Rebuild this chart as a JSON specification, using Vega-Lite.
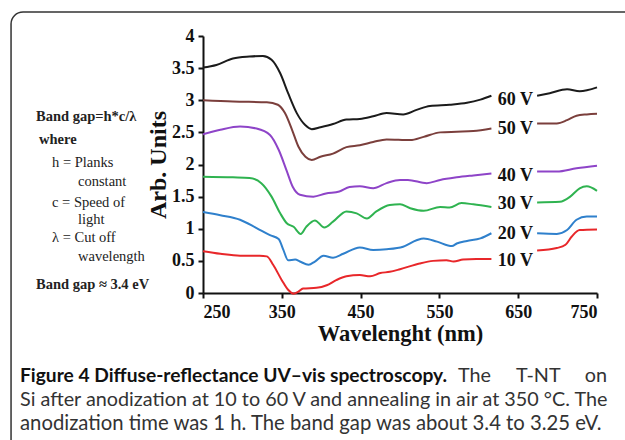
{
  "$schema": "https://vega.github.io/schema/vega-lite/v6.json",
  "width": 394,
  "height": 257,
  "autosize": {"type": "none"},
  "padding": {"left": 203, "top": 36, "right": 28, "bottom": 147},
  "background": "white",
  "config": {"view": {"stroke": null}, "axis": {"labelOverlap": false}},
  "datasets": {
    "curves": [
      {"s":"60 V","seg":1,"wl":250,"v":3.51},{"s":"60 V","seg":1,"wl":267,"v":3.55},{"s":"60 V","seg":1,"wl":288,"v":3.65},{"s":"60 V","seg":1,"wl":309,"v":3.68},{"s":"60 V","seg":1,"wl":326,"v":3.69},{"s":"60 V","seg":1,"wl":337,"v":3.63},{"s":"60 V","seg":1,"wl":348,"v":3.42},{"s":"60 V","seg":1,"wl":358,"v":3.11},{"s":"60 V","seg":1,"wl":369,"v":2.80},{"s":"60 V","seg":1,"wl":380,"v":2.61},{"s":"60 V","seg":1,"wl":388,"v":2.55},{"s":"60 V","seg":1,"wl":399,"v":2.58},{"s":"60 V","seg":1,"wl":415,"v":2.63},{"s":"60 V","seg":1,"wl":432,"v":2.70},{"s":"60 V","seg":1,"wl":449,"v":2.71},{"s":"60 V","seg":1,"wl":466,"v":2.75},{"s":"60 V","seg":1,"wl":483,"v":2.80},{"s":"60 V","seg":1,"wl":504,"v":2.78},{"s":"60 V","seg":1,"wl":521,"v":2.85},{"s":"60 V","seg":1,"wl":538,"v":2.91},{"s":"60 V","seg":1,"wl":563,"v":2.93},{"s":"60 V","seg":1,"wl":585,"v":2.96},{"s":"60 V","seg":1,"wl":602,"v":3.01},{"s":"60 V","seg":1,"wl":616,"v":3.07},
      {"s":"60 V","seg":2,"wl":674,"v":3.07},{"s":"60 V","seg":2,"wl":690,"v":3.11},{"s":"60 V","seg":2,"wl":712,"v":3.17},{"s":"60 V","seg":2,"wl":728,"v":3.14},{"s":"60 V","seg":2,"wl":750,"v":3.20},
      {"s":"50 V","seg":1,"wl":250,"v":3.00},{"s":"50 V","seg":1,"wl":288,"v":2.98},{"s":"50 V","seg":1,"wl":331,"v":2.97},{"s":"50 V","seg":1,"wl":345,"v":2.93},{"s":"50 V","seg":1,"wl":354,"v":2.80},{"s":"50 V","seg":1,"wl":363,"v":2.54},{"s":"50 V","seg":1,"wl":371,"v":2.28},{"s":"50 V","seg":1,"wl":380,"v":2.12},{"s":"50 V","seg":1,"wl":388,"v":2.07},{"s":"50 V","seg":1,"wl":399,"v":2.12},{"s":"50 V","seg":1,"wl":415,"v":2.17},{"s":"50 V","seg":1,"wl":432,"v":2.27},{"s":"50 V","seg":1,"wl":449,"v":2.30},{"s":"50 V","seg":1,"wl":466,"v":2.35},{"s":"50 V","seg":1,"wl":483,"v":2.39},{"s":"50 V","seg":1,"wl":513,"v":2.38},{"s":"50 V","seg":1,"wl":530,"v":2.43},{"s":"50 V","seg":1,"wl":551,"v":2.50},{"s":"50 V","seg":1,"wl":572,"v":2.51},{"s":"50 V","seg":1,"wl":593,"v":2.52},{"s":"50 V","seg":1,"wl":616,"v":2.56},
      {"s":"50 V","seg":2,"wl":674,"v":2.64},{"s":"50 V","seg":2,"wl":699,"v":2.64},{"s":"50 V","seg":2,"wl":712,"v":2.69},{"s":"50 V","seg":2,"wl":724,"v":2.76},{"s":"50 V","seg":2,"wl":737,"v":2.78},{"s":"50 V","seg":2,"wl":750,"v":2.79},
      {"s":"40 V","seg":1,"wl":250,"v":2.47},{"s":"40 V","seg":1,"wl":272,"v":2.54},{"s":"40 V","seg":1,"wl":297,"v":2.59},{"s":"40 V","seg":1,"wl":318,"v":2.56},{"s":"40 V","seg":1,"wl":335,"v":2.46},{"s":"40 V","seg":1,"wl":346,"v":2.23},{"s":"40 V","seg":1,"wl":356,"v":1.91},{"s":"40 V","seg":1,"wl":364,"v":1.65},{"s":"40 V","seg":1,"wl":373,"v":1.53},{"s":"40 V","seg":1,"wl":390,"v":1.50},{"s":"40 V","seg":1,"wl":406,"v":1.55},{"s":"40 V","seg":1,"wl":423,"v":1.58},{"s":"40 V","seg":1,"wl":436,"v":1.65},{"s":"40 V","seg":1,"wl":449,"v":1.66},{"s":"40 V","seg":1,"wl":466,"v":1.63},{"s":"40 V","seg":1,"wl":483,"v":1.71},{"s":"40 V","seg":1,"wl":500,"v":1.76},{"s":"40 V","seg":1,"wl":510,"v":1.76},{"s":"40 V","seg":1,"wl":534,"v":1.71},{"s":"40 V","seg":1,"wl":551,"v":1.76},{"s":"40 V","seg":1,"wl":572,"v":1.80},{"s":"40 V","seg":1,"wl":593,"v":1.83},{"s":"40 V","seg":1,"wl":616,"v":1.86},
      {"s":"40 V","seg":2,"wl":674,"v":1.89},{"s":"40 V","seg":2,"wl":699,"v":1.89},{"s":"40 V","seg":2,"wl":724,"v":1.94},{"s":"40 V","seg":2,"wl":750,"v":1.98},
      {"s":"30 V","seg":1,"wl":250,"v":1.81},{"s":"30 V","seg":1,"wl":288,"v":1.80},{"s":"30 V","seg":1,"wl":309,"v":1.79},{"s":"30 V","seg":1,"wl":324,"v":1.71},{"s":"30 V","seg":1,"wl":337,"v":1.50},{"s":"30 V","seg":1,"wl":348,"v":1.24},{"s":"30 V","seg":1,"wl":356,"v":1.09},{"s":"30 V","seg":1,"wl":365,"v":1.03},{"s":"30 V","seg":1,"wl":374,"v":0.92},{"s":"30 V","seg":1,"wl":381,"v":1.03},{"s":"30 V","seg":1,"wl":392,"v":1.13},{"s":"30 V","seg":1,"wl":404,"v":1.02},{"s":"30 V","seg":1,"wl":415,"v":1.11},{"s":"30 V","seg":1,"wl":432,"v":1.27},{"s":"30 V","seg":1,"wl":445,"v":1.24},{"s":"30 V","seg":1,"wl":458,"v":1.16},{"s":"30 V","seg":1,"wl":470,"v":1.27},{"s":"30 V","seg":1,"wl":487,"v":1.37},{"s":"30 V","seg":1,"wl":500,"v":1.38},{"s":"30 V","seg":1,"wl":513,"v":1.32},{"s":"30 V","seg":1,"wl":530,"v":1.28},{"s":"30 V","seg":1,"wl":551,"v":1.34},{"s":"30 V","seg":1,"wl":563,"v":1.33},{"s":"30 V","seg":1,"wl":578,"v":1.40},{"s":"30 V","seg":1,"wl":593,"v":1.38},{"s":"30 V","seg":1,"wl":616,"v":1.34},
      {"s":"30 V","seg":2,"wl":674,"v":1.41},{"s":"30 V","seg":2,"wl":703,"v":1.42},{"s":"30 V","seg":2,"wl":716,"v":1.50},{"s":"30 V","seg":2,"wl":728,"v":1.63},{"s":"30 V","seg":2,"wl":737,"v":1.66},{"s":"30 V","seg":2,"wl":750,"v":1.59},
      {"s":"20 V","seg":1,"wl":250,"v":1.26},{"s":"20 V","seg":1,"wl":272,"v":1.21},{"s":"20 V","seg":1,"wl":297,"v":1.14},{"s":"20 V","seg":1,"wl":318,"v":1.01},{"s":"20 V","seg":1,"wl":335,"v":0.90},{"s":"20 V","seg":1,"wl":346,"v":0.84},{"s":"20 V","seg":1,"wl":352,"v":0.67},{"s":"20 V","seg":1,"wl":358,"v":0.51},{"s":"20 V","seg":1,"wl":367,"v":0.52},{"s":"20 V","seg":1,"wl":373,"v":0.49},{"s":"20 V","seg":1,"wl":384,"v":0.44},{"s":"20 V","seg":1,"wl":392,"v":0.49},{"s":"20 V","seg":1,"wl":403,"v":0.58},{"s":"20 V","seg":1,"wl":415,"v":0.55},{"s":"20 V","seg":1,"wl":428,"v":0.61},{"s":"20 V","seg":1,"wl":449,"v":0.71},{"s":"20 V","seg":1,"wl":466,"v":0.67},{"s":"20 V","seg":1,"wl":483,"v":0.68},{"s":"20 V","seg":1,"wl":504,"v":0.72},{"s":"20 V","seg":1,"wl":521,"v":0.82},{"s":"20 V","seg":1,"wl":530,"v":0.85},{"s":"20 V","seg":1,"wl":547,"v":0.80},{"s":"20 V","seg":1,"wl":566,"v":0.73},{"s":"20 V","seg":1,"wl":572,"v":0.77},{"s":"20 V","seg":1,"wl":585,"v":0.81},{"s":"20 V","seg":1,"wl":602,"v":0.85},{"s":"20 V","seg":1,"wl":616,"v":0.93},
      {"s":"20 V","seg":2,"wl":674,"v":0.93},{"s":"20 V","seg":2,"wl":699,"v":0.92},{"s":"20 V","seg":2,"wl":712,"v":0.98},{"s":"20 V","seg":2,"wl":724,"v":1.14},{"s":"20 V","seg":2,"wl":737,"v":1.19},{"s":"20 V","seg":2,"wl":750,"v":1.19},
      {"s":"10 V","seg":1,"wl":250,"v":0.65},{"s":"10 V","seg":1,"wl":272,"v":0.61},{"s":"10 V","seg":1,"wl":297,"v":0.58},{"s":"10 V","seg":1,"wl":322,"v":0.58},{"s":"10 V","seg":1,"wl":331,"v":0.57},{"s":"10 V","seg":1,"wl":339,"v":0.44},{"s":"10 V","seg":1,"wl":350,"v":0.20},{"s":"10 V","seg":1,"wl":358,"v":0.05},{"s":"10 V","seg":1,"wl":365,"v":-0.01},{"s":"10 V","seg":1,"wl":371,"v":0.02},{"s":"10 V","seg":1,"wl":377,"v":0.07},{"s":"10 V","seg":1,"wl":394,"v":0.08},{"s":"10 V","seg":1,"wl":407,"v":0.12},{"s":"10 V","seg":1,"wl":419,"v":0.20},{"s":"10 V","seg":1,"wl":432,"v":0.26},{"s":"10 V","seg":1,"wl":449,"v":0.28},{"s":"10 V","seg":1,"wl":462,"v":0.26},{"s":"10 V","seg":1,"wl":475,"v":0.31},{"s":"10 V","seg":1,"wl":487,"v":0.33},{"s":"10 V","seg":1,"wl":500,"v":0.37},{"s":"10 V","seg":1,"wl":525,"v":0.46},{"s":"10 V","seg":1,"wl":542,"v":0.50},{"s":"10 V","seg":1,"wl":559,"v":0.51},{"s":"10 V","seg":1,"wl":568,"v":0.49},{"s":"10 V","seg":1,"wl":580,"v":0.52},{"s":"10 V","seg":1,"wl":597,"v":0.53},{"s":"10 V","seg":1,"wl":616,"v":0.53},
      {"s":"10 V","seg":2,"wl":674,"v":0.66},{"s":"10 V","seg":2,"wl":699,"v":0.70},{"s":"10 V","seg":2,"wl":710,"v":0.75},{"s":"10 V","seg":2,"wl":718,"v":0.88},{"s":"10 V","seg":2,"wl":728,"v":0.98},{"s":"10 V","seg":2,"wl":750,"v":0.99}
    ],
    "labels": [
      {"s":"60 V","wl":624,"v":3.00},
      {"s":"50 V","wl":624,"v":2.55},
      {"s":"40 V","wl":624,"v":1.82},
      {"s":"30 V","wl":624,"v":1.39},
      {"s":"20 V","wl":624,"v":0.92},
      {"s":"10 V","wl":624,"v":0.50}
    ],
    "one": [{}]
  },
  "layer": [
    {
      "data": {"name": "curves"},
      "mark": {"type": "line", "interpolate": "monotone", "strokeWidth": 2},
      "encoding": {
        "x": {"field": "wl", "type": "quantitative", "scale": {"domain": [250, 750], "nice": false, "zero": false},
          "axis": {"values": [250, 350, 450, 550, 650, 750], "title": "Wavelenght (nm)", "grid": false, "labelOverlap": false,
            "labelFont": "Liberation Serif", "labelFontWeight": "bold", "labelFontSize": 18, "labelColor": "#111111", "labelPadding": 5,
            "domainColor": "#111111", "domainWidth": 2, "tickColor": "#111111", "tickWidth": 2, "tickSize": 5,
            "titleFont": "Liberation Serif", "titleFontSize": 22.5, "titleFontWeight": "bold", "titleColor": "#111111", "titlePadding": 1}},
        "y": {"field": "v", "type": "quantitative", "scale": {"domain": [0, 4], "nice": false, "zero": false},
          "axis": {"values": [0, 0.5, 1, 1.5, 2, 2.5, 3, 3.5, 4], "format": "~g", "tickCount": 9, "title": "Arb. Units", "grid": false, "labelOverlap": false,
            "labelFont": "Liberation Serif", "labelFontWeight": "bold", "labelFontSize": 18, "labelColor": "#111111", "labelPadding": 4,
            "domainColor": "#111111", "domainWidth": 2, "tickColor": "#111111", "tickWidth": 2, "tickSize": 5,
            "titleFont": "Liberation Serif", "titleFontSize": 24, "titleFontWeight": "bold", "titleColor": "#111111", "titlePadding": 1}},
        "color": {"field": "s", "type": "nominal", "legend": null,
          "scale": {"domain": ["60 V", "50 V", "40 V", "30 V", "20 V", "10 V"], "range": ["#1b1b1b", "#7b3f3c", "#8e44c8", "#2fb350", "#2f80cc", "#e8272a"]}},
        "detail": {"field": "seg", "type": "nominal"}
      }
    },
    {
      "data": {"name": "one"},
      "mark": {"type": "rect", "cornerRadius": 12, "fillOpacity": 0, "stroke": "#333333", "strokeWidth": 1.5},
      "encoding": {
        "x": {"datum": 6.4, "type": "quantitative"},
        "x2": {"datum": 880},
        "y": {"datum": 4.373, "type": "quantitative"},
        "y2": {"datum": -3.2}
      }
    },
    {
      "data": {"name": "labels"},
      "mark": {"type": "text", "align": "left", "baseline": "middle", "font": "Liberation Serif", "fontWeight": "bold", "fontSize": 18, "color": "#111111"},
      "encoding": {
        "x": {"field": "wl", "type": "quantitative"},
        "y": {"field": "v", "type": "quantitative"},
        "text": {"field": "s"}
      }
    },
    {"data": {"name": "one"}, "mark": {"type": "text", "text": "Band gap=h*c/λ", "align": "left", "baseline": "middle", "font": "Liberation Serif", "fontWeight": "bold", "fontSize": 14.5, "color": "#222222"},
     "encoding": {"x": {"datum": 38.1, "type": "quantitative"}, "y": {"datum": 2.739, "type": "quantitative"}}},
    {"data": {"name": "one"}, "mark": {"type": "text", "text": "where", "align": "left", "baseline": "middle", "font": "Liberation Serif", "fontWeight": "bold", "fontSize": 14.5, "color": "#222222"},
     "encoding": {"x": {"datum": 41.9, "type": "quantitative"}, "y": {"datum": 2.381, "type": "quantitative"}}},
    {"data": {"name": "one"}, "mark": {"type": "text", "text": "h = Planks", "align": "left", "baseline": "middle", "font": "Liberation Serif", "fontSize": 14.5, "color": "#222222"},
     "encoding": {"x": {"datum": 58.4, "type": "quantitative"}, "y": {"datum": 2.023, "type": "quantitative"}}},
    {"data": {"name": "one"}, "mark": {"type": "text", "text": "constant", "align": "left", "baseline": "middle", "font": "Liberation Serif", "fontSize": 14.5, "color": "#222222"},
     "encoding": {"x": {"datum": 91.4, "type": "quantitative"}, "y": {"datum": 1.728, "type": "quantitative"}}},
    {"data": {"name": "one"}, "mark": {"type": "text", "text": "c = Speed of", "align": "left", "baseline": "middle", "font": "Liberation Serif", "fontSize": 14.5, "color": "#222222"},
     "encoding": {"x": {"datum": 58.4, "type": "quantitative"}, "y": {"datum": 1.401, "type": "quantitative"}}},
    {"data": {"name": "one"}, "mark": {"type": "text", "text": "light", "align": "left", "baseline": "middle", "font": "Liberation Serif", "fontSize": 14.5, "color": "#222222"},
     "encoding": {"x": {"datum": 91.4, "type": "quantitative"}, "y": {"datum": 1.136, "type": "quantitative"}}},
    {"data": {"name": "one"}, "mark": {"type": "text", "text": "λ = Cut off", "align": "left", "baseline": "middle", "font": "Liberation Serif", "fontSize": 14.5, "color": "#222222"},
     "encoding": {"x": {"datum": 58.4, "type": "quantitative"}, "y": {"datum": 0.856, "type": "quantitative"}}},
    {"data": {"name": "one"}, "mark": {"type": "text", "text": "wavelength", "align": "left", "baseline": "middle", "font": "Liberation Serif", "fontSize": 14.5, "color": "#222222"},
     "encoding": {"x": {"datum": 91.4, "type": "quantitative"}, "y": {"datum": 0.56, "type": "quantitative"}}},
    {"data": {"name": "one"}, "mark": {"type": "text", "text": "Band gap ≈ 3.4 eV", "align": "left", "baseline": "middle", "font": "Liberation Serif", "fontWeight": "bold", "fontSize": 14.5, "color": "#222222"},
     "encoding": {"x": {"datum": 38.1, "type": "quantitative"}, "y": {"datum": 0.125, "type": "quantitative"}}},
    {"data": {"name": "one"}, "mark": {"type": "text", "text": "Figure 4 Diffuse-reflectance UV–vis spectroscopy.", "align": "left", "baseline": "middle", "font": "Lato", "fontWeight": "bold", "fontSize": 19.2, "color": "#111111"},
     "encoding": {"x": {"datum": 17.8, "type": "quantitative"}, "y": {"datum": -1.292, "type": "quantitative"}}},
    {"data": {"name": "one"}, "mark": {"type": "text", "text": "The", "align": "left", "baseline": "middle", "font": "Lato", "fontSize": 19.8, "color": "#333333"},
     "encoding": {"x": {"datum": 573.6, "type": "quantitative"}, "y": {"datum": -1.292, "type": "quantitative"}}},
    {"data": {"name": "one"}, "mark": {"type": "text", "text": "T-NT", "align": "center", "baseline": "middle", "font": "Lato", "fontSize": 19.8, "color": "#333333"},
     "encoding": {"x": {"datum": 675.5, "type": "quantitative"}, "y": {"datum": -1.292, "type": "quantitative"}}},
    {"data": {"name": "one"}, "mark": {"type": "text", "text": "on", "align": "right", "baseline": "middle", "font": "Lato", "fontSize": 19.8, "color": "#333333"},
     "encoding": {"x": {"datum": 762.7, "type": "quantitative"}, "y": {"datum": -1.292, "type": "quantitative"}}},
    {"data": {"name": "one"}, "mark": {"type": "text", "text": "Si after anodization at 10 to 60 V and annealing in air at 350 °C. The", "align": "left", "baseline": "middle", "font": "Lato", "fontSize": 19.8, "color": "#333333"},
     "encoding": {"x": {"datum": 17.8, "type": "quantitative"}, "y": {"datum": -1.665, "type": "quantitative"}}},
    {"data": {"name": "one"}, "mark": {"type": "text", "text": "anodization time was 1 h. The band gap was about 3.4 to 3.25 eV.", "align": "left", "baseline": "middle", "font": "Lato", "fontSize": 20.3, "color": "#333333"},
     "encoding": {"x": {"datum": 17.8, "type": "quantitative"}, "y": {"datum": -2.039, "type": "quantitative"}}}
  ]
}
